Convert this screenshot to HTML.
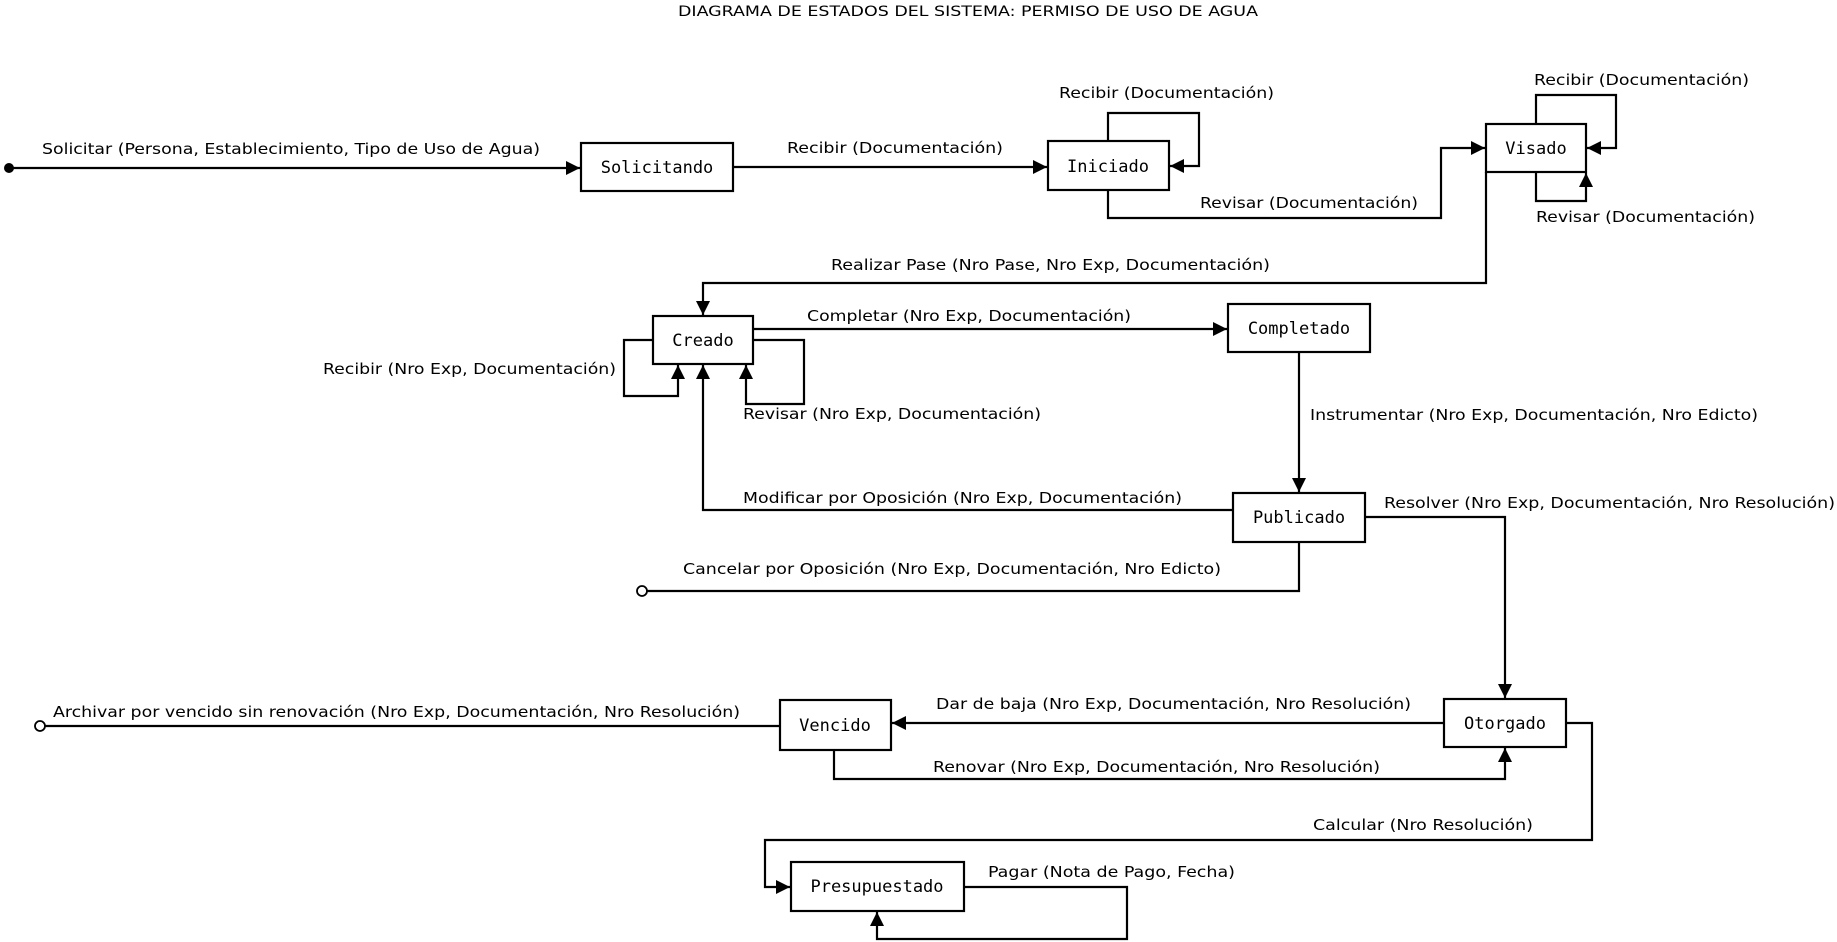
<!DOCTYPE html>
<html><head><meta charset="utf-8"><style>
html,body{margin:0;padding:0;background:#fff;}
svg{display:block;}
text{font-family:"DejaVu Sans Condensed","Liberation Sans Narrow","Liberation Sans",sans-serif;font-size:15px;fill:#000;}
.n{font-family:"DejaVu Sans Mono","Liberation Mono",monospace;font-size:17px;text-anchor:middle;}
.l{fill:none;stroke:#000;stroke-width:2.2;}
.b{fill:#fff;stroke:#000;stroke-width:2.2;}
</style></head><body>
<svg width="1837" height="942" viewBox="0 0 1837 942" xmlns="http://www.w3.org/2000/svg">
<defs>
<marker id="a" viewBox="0 0 10 10" refX="10" refY="5" markerWidth="14" markerHeight="14" markerUnits="userSpaceOnUse" orient="auto"><path d="M0,0L10,5L0,10z" fill="#000"/></marker>
</defs>
<text x="678" y="16" textLength="580" lengthAdjust="spacingAndGlyphs" style="font-size:14px">DIAGRAMA DE ESTADOS DEL SISTEMA: PERMISO DE USO DE AGUA</text>

<circle cx="9" cy="168" r="5" fill="#000"/>
<path class="l" d="M9,168H580" marker-end="url(#a)"/>
<text x="42" y="154" textLength="498" lengthAdjust="spacingAndGlyphs">Solicitar (Persona, Establecimiento, Tipo de Uso de Agua)</text>

<path class="l" d="M733,167H1047" marker-end="url(#a)"/>
<text x="787" y="153" textLength="216" lengthAdjust="spacingAndGlyphs">Recibir (Documentación)</text>

<path class="l" d="M1108,141V113H1199V166H1170" marker-end="url(#a)"/>
<text x="1059" y="98" textLength="215" lengthAdjust="spacingAndGlyphs">Recibir (Documentación)</text>

<path class="l" d="M1108,190V218H1441V148H1485" marker-end="url(#a)"/>
<text x="1200" y="208" textLength="218" lengthAdjust="spacingAndGlyphs">Revisar (Documentación)</text>

<path class="l" d="M1536,124V95H1616V148H1587" marker-end="url(#a)"/>
<text x="1534" y="85" textLength="215" lengthAdjust="spacingAndGlyphs">Recibir (Documentación)</text>

<path class="l" d="M1536,172V201H1586V173" marker-end="url(#a)"/>
<text x="1536" y="222" textLength="219" lengthAdjust="spacingAndGlyphs">Revisar (Documentación)</text>

<path class="l" d="M1486,172V283H703V315" marker-end="url(#a)"/>
<text x="831" y="270" textLength="439" lengthAdjust="spacingAndGlyphs">Realizar Pase (Nro Pase, Nro Exp, Documentación)</text>

<path class="l" d="M753,329H1227" marker-end="url(#a)"/>
<text x="807" y="321" textLength="324" lengthAdjust="spacingAndGlyphs">Completar (Nro Exp, Documentación)</text>

<path class="l" d="M653,340H624V396H678V365" marker-end="url(#a)"/>
<text x="323" y="374" textLength="293" lengthAdjust="spacingAndGlyphs">Recibir (Nro Exp, Documentación)</text>

<path class="l" d="M753,340H804V404H746V365" marker-end="url(#a)"/>
<text x="743" y="419" textLength="298" lengthAdjust="spacingAndGlyphs">Revisar (Nro Exp, Documentación)</text>

<path class="l" d="M1299,352V492" marker-end="url(#a)"/>
<text x="1310" y="420" textLength="448" lengthAdjust="spacingAndGlyphs">Instrumentar (Nro Exp, Documentación, Nro Edicto)</text>

<path class="l" d="M1233,510H703V365" marker-end="url(#a)"/>
<text x="743" y="503" textLength="439" lengthAdjust="spacingAndGlyphs">Modificar por Oposición (Nro Exp, Documentación)</text>

<path class="l" d="M1299,542V591H647"/>
<circle cx="642" cy="591" r="5" fill="#fff" stroke="#000" stroke-width="1.8"/>
<text x="683" y="574" textLength="538" lengthAdjust="spacingAndGlyphs">Cancelar por Oposición (Nro Exp, Documentación, Nro Edicto)</text>

<path class="l" d="M1365,517H1505V698" marker-end="url(#a)"/>
<text x="1384" y="508" textLength="451" lengthAdjust="spacingAndGlyphs">Resolver (Nro Exp, Documentación, Nro Resolución)</text>

<path class="l" d="M1444,723H892" marker-end="url(#a)"/>
<text x="936" y="709" textLength="475" lengthAdjust="spacingAndGlyphs">Dar de baja (Nro Exp, Documentación, Nro Resolución)</text>

<path class="l" d="M834,750V779H1505V748" marker-end="url(#a)"/>
<text x="933" y="772" textLength="447" lengthAdjust="spacingAndGlyphs">Renovar (Nro Exp, Documentación, Nro Resolución)</text>

<path class="l" d="M780,726H45"/>
<circle cx="40" cy="726" r="5" fill="#fff" stroke="#000" stroke-width="1.8"/>
<text x="53" y="717" textLength="687" lengthAdjust="spacingAndGlyphs">Archivar por vencido sin renovación (Nro Exp, Documentación, Nro Resolución)</text>

<path class="l" d="M1566,723H1592V840H765V887H790" marker-end="url(#a)"/>
<text x="1313" y="830" textLength="220" lengthAdjust="spacingAndGlyphs">Calcular (Nro Resolución)</text>

<path class="l" d="M964,887H1127V939H877V912" marker-end="url(#a)"/>
<text x="988" y="877" textLength="247" lengthAdjust="spacingAndGlyphs">Pagar (Nota de Pago, Fecha)</text>

<rect class="b" x="581" y="143" width="152" height="48"/><text class="n" x="657" y="173">Solicitando</text>
<rect class="b" x="1048" y="141" width="121" height="49"/><text class="n" x="1108" y="172">Iniciado</text>
<rect class="b" x="1486" y="124" width="100" height="48"/><text class="n" x="1536" y="154">Visado</text>
<rect class="b" x="653" y="316" width="100" height="48"/><text class="n" x="703" y="346">Creado</text>
<rect class="b" x="1228" y="304" width="142" height="48"/><text class="n" x="1299" y="334">Completado</text>
<rect class="b" x="1233" y="493" width="132" height="49"/><text class="n" x="1299" y="523">Publicado</text>
<rect class="b" x="1444" y="699" width="122" height="48"/><text class="n" x="1505" y="729">Otorgado</text>
<rect class="b" x="780" y="700" width="111" height="50"/><text class="n" x="835" y="731">Vencido</text>
<rect class="b" x="791" y="862" width="173" height="49"/><text class="n" x="877" y="892">Presupuestado</text>
</svg>
</body></html>
